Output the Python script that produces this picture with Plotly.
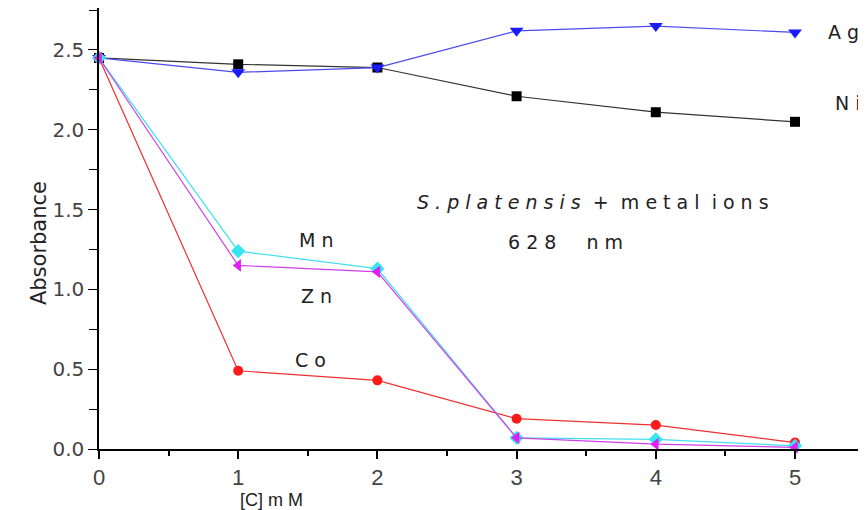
import plotly.graph_objects as go

conc = [0, 1, 2, 3, 4, 5]
ag = [2.45, 2.36, 2.39, 2.62, 2.65, 2.61]
ni = [2.45, 2.41, 2.39, 2.21, 2.11, 2.05]
mn = [2.45, 1.24, 1.13, 0.07, 0.06, 0.02]
zn = [2.45, 1.15, 1.11, 0.07, 0.03, 0.01]
co = [2.45, 0.49, 0.43, 0.19, 0.15, 0.04]
ytick_vals = [0, 0.5, 1.0, 1.5, 2.0, 2.5]

series = [
    ("Ni", ni, "black", "#333", "square", 10),
    ("Ag", ag, "#1a1aff", "#4a4af0", "triangle-down", 12),
    ("Co", co, "#ff1a1a", "#f03030", "circle", 10),
    ("Mn", mn, "#33e6f0", "#40e0f0", "diamond", 11),
    ("Zn", zn, "#e020f0", "#d040e8", "triangle-left", 11),
]

fig = go.Figure()
for name, vals, col, lcol, sym, sz in series:
    fig.add_trace(go.Scatter(x=conc, y=vals, mode="lines+markers", name=name,
                             line=dict(color=lcol, width=1.2),
                             marker=dict(color=col, symbol=sym, size=sz),
                             cliponaxis=False))

font = "DejaVu Sans, sans-serif"
narrow = "Liberation Sans Narrow, Liberation Sans, Arial, sans-serif"
notes = [
    (5.35, 2.61, "A g"), (5.38, 2.17, "N i"),
    (1.56, 1.31, "M n"), (1.56, 0.96, "Z n"), (1.52, 0.56, "C o"),
    (3.55, 1.55, "<i>S . p l a t e n s i s</i>  +  m e t a l  i o n s"),
    (3.35, 1.30, "6 2 8     n m"),
]
for x, y, t in notes:
    fig.add_annotation(x=x, y=y, text=t, showarrow=False,
                       font=dict(family=font, size=19, color="#222"))

fig.add_annotation(x=1.24, y=-0.32 / 2.763, yref="paper", yanchor="middle",
                   text="[C] m M", showarrow=False,
                   font=dict(family=narrow, size=18, color="#222"))
fig.add_annotation(x=-0.0965, xref="paper", y=1.29, text="Absorbance", showarrow=False,
                   textangle=-90, font=dict(family=font, size=21, color="#222"))

fig.update_layout(
    width=858, height=502, showlegend=False,
    plot_bgcolor="white", paper_bgcolor="white",
    margin=dict(l=91, r=0, t=0, b=61),
    font=dict(family=font, size=20, color="#444"),
    xaxis=dict(range=[0, 5.51], tickmode="array", tickvals=conc,
               tickfont=dict(family=narrow, size=22, color="#444"),
               ticks="outside", ticklen=8, tickwidth=2, tickcolor="black", showline=True,
               linecolor="black", linewidth=1.5, showgrid=False, zeroline=False,
               minor=dict(tickvals=[0.5, 1.5, 2.5, 3.5, 4.5, 5.5], ticks="outside",
                          ticklen=5, tickcolor="black")),
    yaxis=dict(range=[0, 2.763], tickvals=ytick_vals, tickformat=".1f",
               tickfont=dict(family=font, size=20, color="#444"),
               ticks="outside", ticklen=9, tickcolor="black", showline=True,
               linecolor="black", linewidth=1.5, showgrid=False, zeroline=False,
               minor=dict(tickvals=[0.25, 0.75, 1.25, 1.75, 2.25, 2.75], ticks="outside",
                          ticklen=8, tickcolor="black")),
)
fig.write_html("out.html")
